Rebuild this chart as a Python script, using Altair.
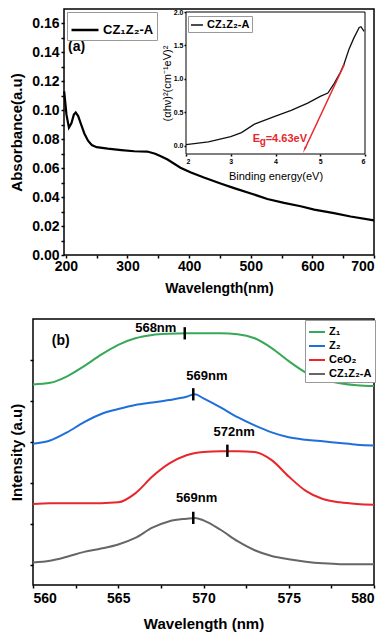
import altair as alt
import pandas as pd

FONT = "Liberation Sans"
SAMPLE = "CZ₁Z₂-A"

# ---------------- Panel (a): absorbance spectrum ----------------
abs_wavelength = [197.3, 201, 205, 209, 213, 216, 220, 225, 230, 236, 242, 250, 268, 290,
                  311, 332, 345, 355, 365, 386, 403, 424, 451, 473, 504, 527, 554, 581,
                  603, 635, 662, 700]
abs_value = [0.113, 0.097, 0.088, 0.091, 0.097, 0.0985, 0.096, 0.090, 0.084, 0.079, 0.076,
             0.0745, 0.0735, 0.0725, 0.0717, 0.0715, 0.070, 0.068, 0.066, 0.0603, 0.057,
             0.0535, 0.0494, 0.0462, 0.042, 0.0387, 0.036, 0.0337, 0.0314, 0.0289, 0.0266,
             0.0239]

# Inset: Tauc plot
inset_energy = [2.0, 2.5, 3.0, 3.24, 3.53, 4.0, 4.35, 4.72, 5.0, 5.17, 5.31, 5.45, 5.53,
                5.64, 5.75, 5.87, 5.91, 5.98]
inset_value = [0.02, 0.06, 0.14, 0.20, 0.325, 0.447, 0.53, 0.64, 0.74, 0.79, 0.93, 1.10,
               1.22, 1.44, 1.61, 1.77, 1.78, 1.71]

tangent_energy = [5.54, 4.655]
tangent_value = [1.22, -0.045]

# ---------------- Panel (b): PL spectra ----------------
series_names = ["Z₁", "Z₂", "CeO₂", "CZ₁Z₂-A"]
series_colors = ["#36a857", "#1f6fdb", "#e8262b", "#666666"]

wl_21 = [560, 561, 562, 563, 564, 565, 566, 567, 568, 569, 570, 571, 572, 573, 574, 575,
         576, 577, 578, 579, 580]
wl_22 = [560, 561, 562, 563, 564, 565, 566, 567, 568, 569, 569.5, 570, 571, 572, 573, 574,
         575, 576, 577, 578, 579, 580]

z1_int = [5.40, 5.44, 5.60, 5.85, 6.13, 6.37, 6.53, 6.61, 6.64, 6.65, 6.65, 6.65, 6.63,
          6.53, 6.29, 5.97, 5.69, 5.52, 5.43, 5.38, 5.36]
z2_int = [3.95, 4.03, 4.23, 4.48, 4.68, 4.80, 4.90, 4.96, 5.02, 5.10, 5.16, 5.06, 4.84,
          4.60, 4.40, 4.23, 4.11, 4.05, 4.01, 3.97, 3.93, 3.91]
ceo2_int = [2.48, 2.50, 2.50, 2.50, 2.50, 2.52, 2.74, 3.15, 3.47, 3.67, 3.75, 3.77, 3.77,
            3.75, 3.55, 3.15, 2.80, 2.60, 2.52, 2.48, 2.46]
cz_int = [1.05, 1.09, 1.19, 1.31, 1.39, 1.49, 1.65, 1.90, 2.06, 2.12, 2.14, 2.08, 1.85,
          1.57, 1.35, 1.21, 1.13, 1.07, 1.03, 1.01, 1.01, 1.01]

peak_wl = [568.9, 569.4, 571.4, 569.4]
peak_int = [6.65, 5.16, 3.78, 2.14]
peak_text = ["568nm", "569nm", "572nm", "569nm"]
peak_text_wl = [567.2, 570.2, 571.8, 569.6]
peak_text_int = [6.69, 5.52, 4.15, 2.52]

# layout helpers (pixels)
W = 341          # shared panel width
A_LEFT = 31      # frame of panel (a) starts this far right of panel (b)'s frame
A_H = 246
B_H = 266

# ================= build panel (a) =================
df_abs = pd.DataFrame({"wl": abs_wavelength, "A": abs_value, "s": SAMPLE})

main_xs = alt.Scale(domain=[197, 700], range=[A_LEFT, W], nice=False, zero=False)
main_ys = alt.Scale(domain=[0, 0.17], nice=False, zero=False)
main_xa = alt.Axis(values=list(range(200, 701, 50)),
                   labelExpr="datum.value % 100 == 0 ? datum.label : ''",
                   title="Wavelength(nm)", titleFontSize=14, titlePadding=8,
                   labelFontSize=14, tickSize=3, labelPadding=1, titleX=A_LEFT + (W - A_LEFT) / 2)
main_ya = alt.Axis(values=[round(i * 0.01, 2) for i in range(0, 17)], offset=-A_LEFT,
                   labelExpr="round(datum.value*100) % 2 == 0 ? format(datum.value, '.2f') : ''",
                   title="Absorbance(a.u)", titleFontSize=15, titlePadding=7,
                   labelFontSize=14, tickSize=3, labelPadding=2,
                   minExtent=33, maxExtent=33)

frame_a = alt.Chart(pd.DataFrame({"a": [0]})).transform_calculate(
    fx0="197", fx1="700", fy0="0", fy1="0.17"
).mark_rect(fill="transparent", stroke="black", strokeWidth=1.5).encode(
    x=alt.X("fx0:Q", scale=main_xs, axis=main_xa), x2="fx1:Q",
    y=alt.Y("fy0:Q", scale=main_ys, axis=main_ya), y2="fy1:Q",
)

main_line = alt.Chart(df_abs).mark_line(strokeWidth=2.2).encode(
    x=alt.X("wl:Q", scale=main_xs, axis=main_xa),
    y=alt.Y("A:Q", scale=main_ys, axis=main_ya),
    color=alt.Color("s:N", scale=alt.Scale(domain=[SAMPLE], range=["black"]),
                    legend=alt.Legend(title=None, orient="none", legendX=A_LEFT + 3, legendY=3,
                                      symbolType="stroke", symbolSize=729, symbolStrokeWidth=2.5,
                                      labelFontSize=13, labelFontWeight="bold", labelFont=FONT,
                                      strokeColor="#999999", fillColor="white", padding=3,
                                      labelOffset=3))
)

label_a = alt.Chart(pd.DataFrame({"x": [203.5], "y": [0.141], "t": ["(a)"]})).mark_text(
    align="left", baseline="alphabetic", fontSize=14, fontWeight="bold", font=FONT, color="black"
).encode(x=alt.X("x:Q", scale=main_xs, axis=main_xa),
         y=alt.Y("y:Q", scale=main_ys, axis=main_ya), text="t:N")

main_group = alt.layer(frame_a, main_line, label_a)

# inset
IX0, IX1 = A_LEFT + 122, A_LEFT + 301
ix_scale = alt.Scale(domain=[2, 6], range=[IX0, IX1], nice=False, zero=False)
iy_scale = alt.Scale(domain=[-0.12, 2.0], range=[145, 3], nice=False, zero=False)
ix_axis = alt.Axis(orient="bottom", offset=-(A_H - 145), values=[2, 3, 4, 5, 6], format="d",
                   labelFontSize=7, labelFontWeight="bold", tickSize=2, labelPadding=1,
                   title="Binding energy(eV)", titleFontSize=11, titleFontWeight="normal",
                   titlePadding=6, domain=False, grid=False)
iy_axis = alt.Axis(orient="left", offset=-IX0, values=[0, 0.5, 1.0, 1.5, 2.0], format=".1f",
                   labelFontSize=7, labelFontWeight="bold", tickSize=2, labelPadding=1,
                   title="(αhν)²(cm⁻¹eV)²", titleFontSize=11, titleFontWeight="normal",
                   titlePadding=1, domain=False, grid=False)

inset_frame = alt.Chart(pd.DataFrame({"a": [0]})).transform_calculate(
    x0="2", x1="6", y0="-0.12", y1="2.0"
).mark_rect(fill="white", stroke="black", strokeWidth=1).encode(
    x=alt.X("x0:Q", scale=ix_scale, axis=ix_axis), x2="x1:Q",
    y=alt.Y("y0:Q", scale=iy_scale, axis=iy_axis), y2="y1:Q",
)

df_inset = pd.DataFrame({"e": inset_energy, "v": inset_value, "s2": SAMPLE})
inset_line = alt.Chart(df_inset).mark_line(strokeWidth=1.3).encode(
    x=alt.X("e:Q", scale=ix_scale, axis=ix_axis),
    y=alt.Y("v:Q", scale=iy_scale, axis=iy_axis),
    color=alt.Color("s2:N", scale=alt.Scale(domain=[SAMPLE], range=["#111111"]),
                    legend=alt.Legend(title=None, orient="none", legendX=IX0 + 2, legendY=7,
                                      symbolType="stroke", symbolSize=144, symbolStrokeWidth=1.5,
                                      labelFontSize=11, labelFontWeight="bold", labelFont=FONT,
                                      strokeColor="#999999", fillColor="white", padding=2,
                                      labelOffset=3))
)

df_tan = pd.DataFrame({"e": tangent_energy, "v": tangent_value})
tangent = alt.Chart(df_tan).mark_line(color="#e8262b", strokeWidth=1.5).encode(
    x=alt.X("e:Q", scale=ix_scale, axis=ix_axis),
    y=alt.Y("v:Q", scale=iy_scale, axis=iy_axis),
)
arrow = alt.Chart(df_tan.iloc[[1]]).mark_point(
    shape="wedge", angle=205, size=60, filled=True, color="#e8262b", opacity=1
).encode(
    x=alt.X("e:Q", scale=ix_scale, axis=ix_axis),
    y=alt.Y("v:Q", scale=iy_scale, axis=iy_axis),
)

eg_df = pd.DataFrame({"e": [3.49], "v": [0.063]})
eg_parts = []
for txt, dx, dy, fs in [("E", 0, 0, 11), ("g", 7, 3, 10), ("=4.63eV", 13, 0, 11)]:
    eg_parts.append(
        alt.Chart(eg_df).mark_text(text=txt, align="left", baseline="alphabetic", dx=dx, dy=dy,
                                   fontSize=fs, fontWeight="bold", font=FONT, color="#e8262b")
        .encode(x=alt.X("e:Q", scale=ix_scale, axis=ix_axis),
                y=alt.Y("v:Q", scale=iy_scale, axis=iy_axis))
    )

inset_group = alt.layer(inset_frame, inset_line, tangent, arrow, *eg_parts)

panel_a = alt.layer(main_group, inset_group).resolve_scale(
    x="independent", y="independent", color="independent"
).properties(width=W, height=A_H, view=alt.ViewBackground(strokeOpacity=0))

# ================= build panel (b) =================
rows = []
for name, xs, ys in [("Z₁", wl_21, z1_int), ("Z₂", wl_22, z2_int),
                     ("CeO₂", wl_21, ceo2_int), ("CZ₁Z₂-A", wl_22, cz_int)]:
    for x, y in zip(xs, ys):
        rows.append({"wl": x, "I": y, "series": name})
df_pl = pd.DataFrame(rows)

bx = alt.X("wl:Q", scale=alt.Scale(domain=[560, 580], nice=False, zero=False),
           axis=alt.Axis(values=[560 + 2.5 * i for i in range(9)],
                         labelExpr="datum.value % 5 == 0 ? format(datum.value, 'd') : ''",
                         title="Wavelength (nm)", titleFontSize=15, titlePadding=11,
                         labelFontSize=14, tickSize=3, labelPadding=3))
by = alt.Y("I:Q", scale=alt.Scale(domain=[0.5, 7.0], nice=False, zero=False),
           axis=alt.Axis(values=[1.0 + 0.5 * i for i in range(12)], labels=False,
                         title="Intensity (a.u)", titleFontSize=15, titlePadding=6,
                         tickSize=3, minExtent=3, maxExtent=3))

pl_lines = alt.Chart(df_pl).mark_line(strokeWidth=2, interpolate="monotone").encode(
    x=bx, y=by,
    color=alt.Color("series:N", sort=series_names,
                    scale=alt.Scale(domain=series_names, range=series_colors),
                    legend=alt.Legend(title=None, orient="none", legendX=272, legendY=1,
                                      symbolType="stroke", symbolSize=256, symbolStrokeWidth=2,
                                      labelFontSize=11, labelFontWeight="bold", labelFont=FONT,
                                      strokeColor="#999999", fillColor="white", padding=3,
                                      rowPadding=0, labelOffset=3))
)

df_peak = pd.DataFrame({"wl": peak_wl, "I": peak_int})
peak_marks = alt.Chart(df_peak).transform_calculate(
    lo="datum.I - 0.15", hi="datum.I + 0.15"
).mark_rule(color="black", strokeWidth=2.5).encode(
    x="wl:Q", y="lo:Q", y2="hi:Q"
)

df_peak_txt = pd.DataFrame({"wl": peak_text_wl, "I": peak_text_int, "t": peak_text})
peak_labels = alt.Chart(df_peak_txt).mark_text(
    align="center", baseline="alphabetic", fontSize=13, fontWeight="bold", font=FONT, color="black"
).encode(x="wl:Q", y="I:Q", text="t:N")

label_b = alt.Chart(pd.DataFrame({"wl": [561.1], "I": [6.37], "t": ["(b)"]})).mark_text(
    align="left", baseline="alphabetic", fontSize=14, fontWeight="bold", font=FONT, color="black"
).encode(x="wl:Q", y="I:Q", text="t:N")

panel_b = alt.layer(pl_lines, peak_marks, peak_labels, label_b).properties(
    width=W, height=B_H, view=alt.ViewBackground(stroke="black", strokeWidth=1.5))

chart = alt.vconcat(panel_a, panel_b, spacing=23).resolve_scale(color="independent").properties(
    padding=0, background="white"
).configure_view(
    stroke="black", strokeWidth=1.5
).configure_axis(
    labelFont=FONT, titleFont=FONT, labelFontWeight="bold", titleFontWeight="bold",
    labelColor="black", titleColor="black", tickColor="black", tickWidth=1.5,
    domain=False, grid=False
).configure_legend(
    labelColor="black"
)

chart.save("out.html", embed_options={"renderer": "svg", "actions": False})
